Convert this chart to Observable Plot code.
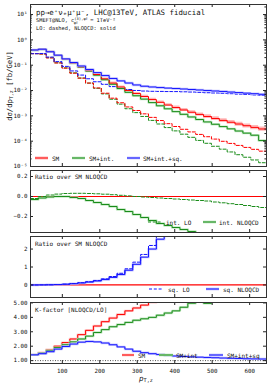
<!DOCTYPE html>
<html><head><meta charset="utf-8">
<script src="https://cdn.jsdelivr.net/npm/d3@7"></script>
<script src="https://cdn.jsdelivr.net/npm/@observablehq/plot@0.6"></script>
<style>
html,body{margin:0;padding:0;background:#fff;}
#wrap{position:relative;width:272px;height:388px;overflow:hidden;background:#fff;}
#wrap svg{position:absolute;left:0;}
</style></head><body><div id="wrap"></div>
<script>
// ---- data ----
const pT_edges = [15,36,57,78,99,120,141,162,183,204,225,246,267,288,309,330,351,372,393,414,435,456,477,498,519,540,561,582,603,624,645];
const xTicks = [100,200,300,400,500,600];
const sm_nlo = [0.40,0.43,0.34,0.245,0.172,0.121,0.086,0.061,0.043,0.029,0.0197,0.0138,0.0100,0.0076,0.0058,0.0044,0.00343,0.00268,0.00213,0.00171,0.00139,0.00114,0.000945,0.000788,0.000662,0.000559,0.000476,0.000408,0.00035,0.000303];
const sm_nlo_unc = [0.05,0.05,0.06,0.06,0.07,0.07,0.08,0.08,0.09,0.09,0.10,0.10,0.11,0.11,0.12,0.12,0.13,0.13,0.14,0.14,0.15,0.15,0.16,0.16,0.17,0.17,0.18,0.18,0.19,0.19];
const sm_lo = [0.286,0.277,0.194,0.1225,0.0764,0.0484,0.0307,0.0197,0.01265,0.00784,0.00499,0.00329,0.00225,0.00163,0.0012,0.000871,0.000653,0.000492,0.00038,0.000295,0.000232,0.000185,0.00015,0.000121,0.0000988,0.0000816,0.000068,0.0000567,0.0000476,0.0000404];
const smint_nlo = [0.388,0.424,0.338,0.245,0.172,0.1198,0.0843,0.0586,0.0404,0.0267,0.0177,0.0120,0.0085,0.00623,0.00458,0.00334,0.0025,0.0019,0.00147,0.00115,0.000904,0.000718,0.000576,0.000465,0.000377,0.000307,0.000252,0.000208,0.000172,0.000106];
const smint_lo = [0.286,0.277,0.198,0.125,0.0787,0.0499,0.0313,0.0197,0.01227,0.00737,0.00454,0.0029,0.00191,0.00134,0.000948,0.000662,0.000477,0.000344,0.000255,0.000189,0.000142,0.000107,0.0000825,0.0000629,0.0000484,0.0000375,0.0000292,0.0000232,0.0000181,0.0000141];
const smintsq_nlo = [0.40,0.43,0.34,0.25,0.178,0.128,0.093,0.068,0.051,0.039,0.030,0.024,0.0198,0.0166,0.0148,0.0138,0.0131,0.0125,0.0120,0.0115,0.0110,0.0105,0.0100,0.0096,0.0092,0.0087,0.0083,0.0079,0.0075,0.0071];
const smintsq_lo = [0.286,0.291,0.21,0.139,0.0899,0.0595,0.0408,0.0292,0.0222,0.0176,0.0143,0.0123,0.011,0.01006,0.00955,0.00932,0.00923,0.00912,0.00909,0.00891,0.00873,0.00847,0.0082,0.008,0.0078,0.0075,0.00722,0.00699,0.0067,0.0064];
const int_lo_ratio = [-0.02,0.0,0.015,0.024,0.03,0.032,0.032,0.03,0.027,0.023,0.018,0.012,0.006,0.0,-0.005,-0.01,-0.015,-0.02,-0.025,-0.03,-0.035,-0.04,-0.045,-0.055,-0.063,-0.072,-0.08,-0.09,-0.10,-0.11];
const int_nlo_ratio = [-0.03,-0.015,-0.005,0.0,0.0,-0.01,-0.02,-0.04,-0.06,-0.08,-0.10,-0.13,-0.15,-0.18,-0.21,-0.24,-0.27,-0.29,-0.31,-0.33,-0.35,-0.37,-0.39,-0.41,-0.43,-0.45,-0.47,-0.49,-0.51,-0.53];
const sq_lo_ratio = [0.0,0.004,0.01,0.024,0.045,0.08,0.125,0.18,0.25,0.34,0.47,0.65,0.9,1.27,1.7,2.2,2.8,3.5,4.3,5.2,6.2,7.3,8.5,9.8,11.2,12.7,14.3,16.0,17.8,19.7];
const sq_nlo_ratio = [0.0,0.003,0.008,0.02,0.04,0.07,0.11,0.16,0.22,0.30,0.42,0.58,0.82,1.15,1.55,2.0,2.55,3.2,3.9,4.7,5.6,6.6,7.7,8.9,10.2,11.6,13.1,14.7,16.4,18.2];
const k_sm = [1.4,1.55,1.75,2.0,2.25,2.5,2.8,3.1,3.4,3.7,3.95,4.2,4.45,4.65,4.85,5.05,5.25,5.45,5.6,5.8,6.0,6.15,6.3,6.5,6.7,6.85,7.0,7.2,7.35,7.5];
const k_smint = [1.4,1.52,1.7,1.9,2.1,2.3,2.5,2.7,2.95,3.15,3.35,3.5,3.65,3.8,3.9,4.0,4.15,4.3,4.45,4.7,4.98,5.2,4.97,5.3,5.5,5.7,5.9,6.1,6.3,6.5];
const k_smintsq = [1.40,1.48,1.62,1.8,1.98,2.15,2.28,2.33,2.3,2.22,2.1,1.95,1.8,1.65,1.55,1.48,1.42,1.37,1.32,1.29,1.26,1.24,1.22,1.2,1.18,1.16,1.15,1.13,1.12,1.11];
const p1Ticks = [1e-5,1e-4,1e-3,1e-2,1e-1,1,10];
const p1Labels = ["10⁻⁵","10⁻⁴","10⁻³","10⁻²","10⁻¹","10⁰","10¹"];
const p2Ticks = [-0.2,0,0.2];
const p3Ticks = [0,1,2];
const p4Ticks = [1,2,3,4,5];

// ---- drawing ----
const FONT = "'DejaVu Sans Mono', monospace";
const W = 272, ML = 30, MR = 6, FW = W - ML - MR;
const col = {red:"#ff0000", pink:"#ffb8b8", green:"#1a8c1a", lgreen:"#b4e2b4", blue:"#1414ff", lblue:"#b8b8ff", frame:"#333"};
const wrap = document.getElementById("wrap");

function steps(v){ return pT_edges.map((x,i)=>({x, y:v[Math.min(i, v.length-1)]})); }
function hist(v, stroke, dashed, halo){
  const m = [];
  if (halo) m.push(Plot.line(steps(v), {x:"x", y:"y", curve:"step-after", stroke:halo, strokeWidth:2.4, strokeOpacity:0.8, clip:true}));
  const o = {x:"x", y:"y", curve:"step-after", stroke, strokeWidth:1, clip:true};
  if (dashed) o.strokeDasharray = "3,1.8";
  m.push(Plot.line(steps(v), o));
  return m;
}
function decor(yTicks, yMinor, fh, fmt){
  return [
    Plot.tickY(yTicks, {y:d=>d, insetRight:FW-3, stroke:"#222"}),
    Plot.tickY(yTicks, {y:d=>d, insetLeft:FW-3, stroke:"#222"}),
    Plot.tickY(yMinor, {y:d=>d, insetRight:FW-1.6, stroke:"#222"}),
    Plot.tickY(yMinor, {y:d=>d, insetLeft:FW-1.6, stroke:"#222"}),
    Plot.tickX(xTicks, {x:d=>d, insetTop:fh-3, stroke:"#222"}),
    Plot.tickX(xTicks, {x:d=>d, insetBottom:fh-3, stroke:"#222"}),
    Plot.text(yTicks, {y:d=>d, frameAnchor:"left", dx:-3, textAnchor:"end", text:fmt, fontSize:5.8, fill:"#111"}),
    Plot.frame({stroke:col.frame, strokeWidth:1})
  ];
}
function panel(top, height, mt, mb, y, marks){
  const svg = Plot.plot({
    width:W, height, marginLeft:ML, marginRight:MR, marginTop:mt, marginBottom:mb,
    style:{fontFamily:FONT, fontSize:"6px", background:"transparent", overflow:"visible"},
    x:{domain:[15,645], axis:null},
    y:Object.assign({axis:null}, y),
    marks
  });
  svg.style.top = top + "px";
  wrap.appendChild(svg);
}

// log minor ticks
const minor1 = [];
for (let e=-5; e<=1; e++) for (let k=2; k<=9; k++){ const v=k*Math.pow(10,e); if (v<25) minor1.push(v); }

// Panel 1
const band = pT_edges.map((x,i)=>{const j=Math.min(i,sm_nlo.length-1); return {x, y1:sm_nlo[j]*(1-sm_nlo_unc[j]), y2:sm_nlo[j]*(1+sm_nlo_unc[j])};});
panel(0, 168, 4, 2, {type:"log", domain:[1e-5, 25]}, [
  Plot.areaY(band, {x:"x", y1:"y1", y2:"y2", curve:"step-after", fill:col.pink, clip:true}),
  ...hist(smint_lo, col.green, true),
  ...hist(sm_lo, col.red, true),
  ...hist(smintsq_lo, col.blue, true),
  ...hist(smint_nlo, col.green, false, col.lgreen),
  ...hist(sm_nlo, col.red, false),
  ...hist(smintsq_nlo, col.blue, false, col.lblue),
  ...decor(p1Ticks, minor1, 162, (d,i)=>p1Labels[i])
]);
// Panel 2
panel(168, 66, 2, 2, {domain:[-0.36, 0.26]}, [
  Plot.ruleY([0], {stroke:col.red, strokeWidth:1.2}),
  ...hist(int_nlo_ratio, col.green, false, col.lgreen),
  ...hist(int_lo_ratio, col.green, true),
  ...decor(p2Ticks, [], 62, d=>d3.format(".1f")(d))
]);
// Panel 3
panel(234, 65, 2, 2, {domain:[-0.7, 2.7]}, [
  Plot.ruleY([0], {stroke:col.red, strokeWidth:1.2}),
  ...hist(sq_nlo_ratio, col.blue, false, col.lblue),
  ...hist(sq_lo_ratio, col.blue, true),
  ...decor(p3Ticks, [], 61, d=>String(d))
]);
// Panel 4
panel(300, 88, 2, 25, {domain:[0.8, 5.03]}, [
  Plot.ruleY([1], {stroke:"#222", strokeWidth:0.8, strokeDasharray:"1,1.5"}),
  ...hist(k_sm, col.red, false, col.pink),
  ...hist(k_smint, col.green, false, col.lgreen),
  ...hist(k_smintsq, col.blue, false, col.lblue),
  ...decor(p4Ticks, [], 61, d=>d3.format(".2f")(d)),
  Plot.text(xTicks, {x:d=>d, frameAnchor:"bottom", dy:9, text:d=>String(d), fontSize:5.8, fill:"#111"})
]);

// ---- text overlay: titles, annotations, legends ----
const ns = "http://www.w3.org/2000/svg";
const ov = document.createElementNS(ns, "svg");
ov.setAttribute("width", W); ov.setAttribute("height", 388);
ov.style.top = "0px"; ov.style.fontFamily = FONT; ov.style.fill = "#111";
function leg(x1, x2, y, stroke, dashed, halo){
  let s = "";
  if (halo) s += `<line x1="${x1}" x2="${x2}" y1="${y}" y2="${y}" stroke="${halo}" stroke-width="2.6"/>`;
  s += `<line x1="${x1}" x2="${x2}" y1="${y}" y2="${y}" stroke="${stroke}" stroke-width="1" ${dashed?'stroke-dasharray="3,1.8"':''}/>`;
  return s;
}
function txt(x, y, s, size, extra=""){ return `<text x="${x}" y="${y}" font-size="${size}" dominant-baseline="central" ${extra}>${s}</text>`; }
ov.innerHTML =
  txt(36, 12, "pp→e⁺νₑμ⁺μ⁻, LHC@13TeV, ATLAS fiducial", 7.4) +
  `<text x="36" y="20" font-size="5.3" dominant-baseline="central">SMEFT@NLO, c<tspan font-size="3.8" dy="-2">(3),φℓ</tspan><tspan font-size="3.8" dx="-13.7" dy="4">φℓ</tspan><tspan dx="9.1" dy="-2"> = 1TeV⁻²</tspan></text>` +
  txt(36, 28, "LO: dashed, NLOQCD: solid", 5.3) +
  `<text transform="translate(9,86) rotate(-90)" font-size="7.2" text-anchor="middle" dominant-baseline="central">dσ/dp<tspan font-size="5" dy="1.5">T,z</tspan><tspan dy="-1.5"> [fb/GeV]</tspan></text>` +
  // panel 1 legend
  `<rect x="35" y="156.5" width="13" height="3" fill="${col.pink}"/>` + leg(35, 48, 158, col.red) + txt(52, 158, "SM", 6) +
  leg(72, 85, 158, col.green, false, col.lgreen) + txt(89, 158, "SM+int.", 6) +
  leg(127, 140, 158, col.blue, false, col.lblue) + txt(143, 158, "SM+int.+sq.", 6) +
  // panel 2
  txt(35, 176, "Ratio over SM NLOQCD", 6) +
  leg(148, 162, 222, col.green, true) + txt(166, 222, "int. LO", 6) +
  leg(203, 216, 222, col.green, false, col.lgreen) + txt(219, 222, "int. NLOQCD", 6) +
  // panel 3
  txt(35, 243, "Ratio over SM NLOQCD", 6) +
  leg(149, 163, 289, col.blue, true) + txt(168, 289, "sq. LO", 6) +
  leg(206, 219, 289, col.blue, false, col.lblue) + txt(223, 289, "sq. NLOQCD", 6) +
  // panel 4
  txt(35, 309, "K-factor [NLOQCD/LO]", 6) +
  leg(122, 134, 355, col.red, false, col.pink) + txt(138, 355, "SM", 6) +
  leg(159, 173, 355, col.green, false, col.lgreen) + txt(176, 355, "SM+int", 6) +
  leg(209, 223, 355, col.blue, false, col.lblue) + txt(227, 355, "SM+int+sq", 6) +
  // x label
  `<text x="146" y="378" font-size="7.5" text-anchor="middle" dominant-baseline="central"><tspan font-style="italic">p</tspan><tspan font-size="5.2" dy="1.8">T,z</tspan></text>`;
wrap.appendChild(ov);
</script>
</body></html>
